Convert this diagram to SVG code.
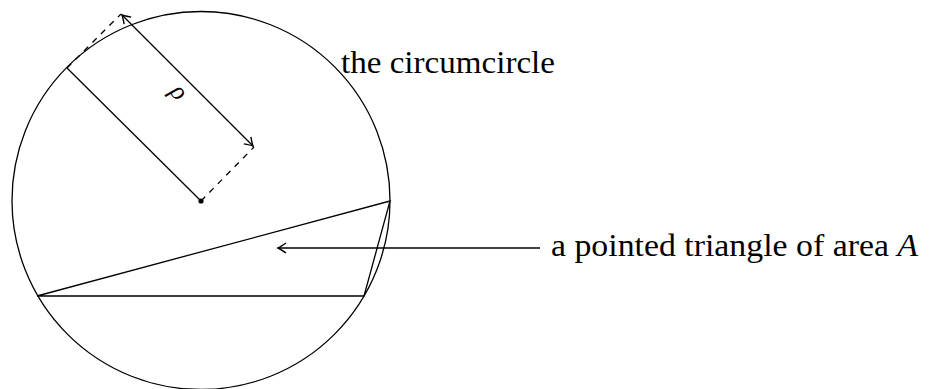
<svg xmlns="http://www.w3.org/2000/svg" width="936" height="389" viewBox="0 0 936 389">
<style>
.ln{fill:none;stroke:#000;stroke-width:1.3}
.ds{fill:none;stroke:#000;stroke-width:1.3;stroke-dasharray:6 6}
.tx{font-family:"Liberation Serif","DejaVu Serif",serif;fill:#000}
</style>
<defs>
<marker id="ah" viewBox="-10 -6 12 12" refX="0" refY="0" markerWidth="12" markerHeight="12" markerUnits="userSpaceOnUse" orient="auto-start-reverse">
<path d="M-8,-5 Q-2.5,-1.2 0,0 Q-2.5,1.2 -8,5" fill="none" stroke="#000" stroke-width="1.4"/>
</marker>
</defs>
<rect width="936" height="389" fill="#fff"/>
<g id="circumcircle">
<circle class="ln" cx="201" cy="200.5" r="189"/>
</g>
<g id="triangle">
<polygon class="ln" points="390,201 37,296 364,296"/>
</g>
<g id="center">
<circle cx="201" cy="201" r="2.6" fill="#000"/>
</g>
<g id="connectors">
<line class="ln" x1="201" y1="201" x2="67" y2="68"/>
<line class="ds" x1="201" y1="201" x2="254" y2="147"/>
<line class="ds" x1="67" y1="68" x2="121" y2="14"/>
<line class="ln" x1="122" y1="15" x2="253" y2="146" marker-start="url(#ah)" marker-end="url(#ah)"/>
<line class="ln" x1="540" y1="248" x2="278" y2="248" marker-end="url(#ah)"/>
</g>
<g id="labels">
<text class="tx" x="0" y="0" font-size="26" font-style="italic" text-anchor="middle" transform="translate(173,97) rotate(50)">ρ</text>
<text class="tx" x="341" y="72.5" font-size="32" textLength="214" lengthAdjust="spacingAndGlyphs">the circumcircle</text>
<text class="tx" x="551" y="255.5" font-size="32" textLength="367" lengthAdjust="spacingAndGlyphs">a pointed triangle of area <tspan font-style="italic">A</tspan></text>
</g>
</svg>
